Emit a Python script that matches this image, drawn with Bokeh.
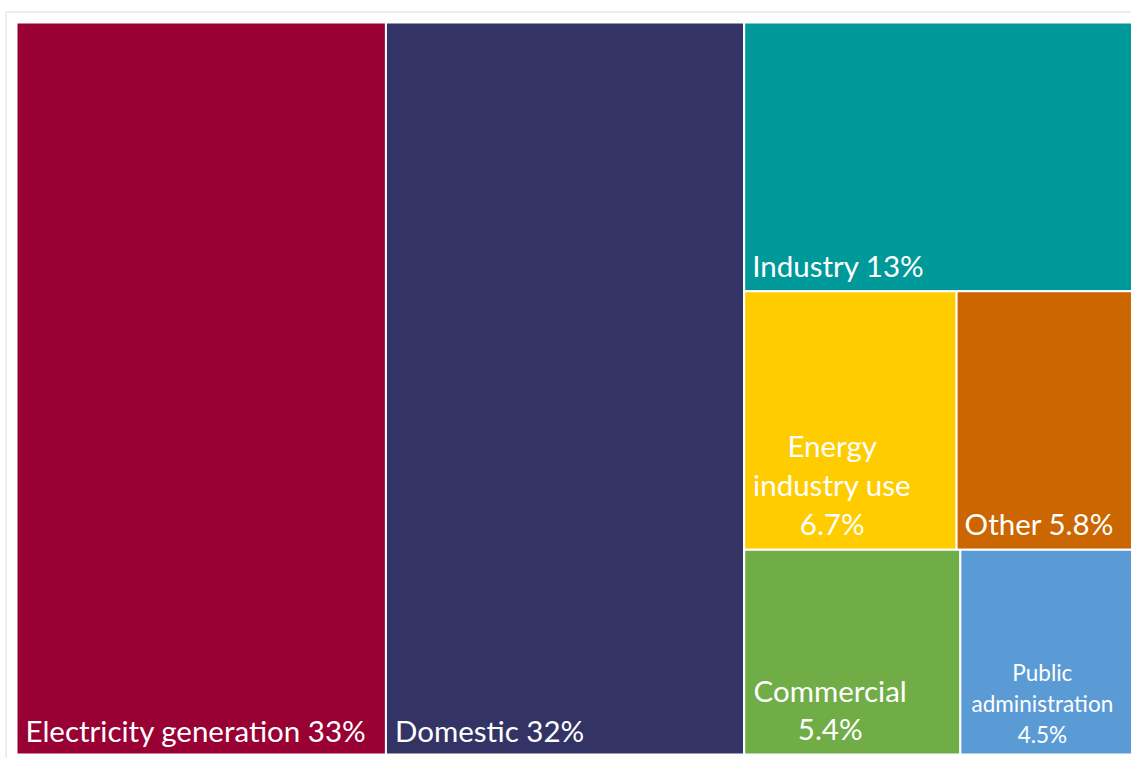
from bokeh.plotting import figure
from bokeh.models import Range1d, ColumnDataSource
from bokeh.core.properties import value
from bokeh.embed import file_html
from bokeh.resources import INLINE

# ---- data ----
names = ["Electricity generation", "Domestic", "Industry", "Energy industry use",
         "Other", "Commercial", "Public administration"]
shares = [33, 32, 13, 6.7, 5.8, 5.4, 4.5]
pct_labels = ["33%", "32%", "13%", "6.7%", "5.8%", "5.4%", "4.5%"]
label_lines = [
    ["Electricity generation 33%"],
    ["Domestic 32%"],
    ["Industry 13%"],
    ["Energy", "industry use", "6.7%"],
    ["Other 5.8%"],
    ["Commercial", "5.4%"],
    ["Public", "administration", "4.5%"],
]
colors = ["#990033", "#333366", "#009999", "#FFCC00", "#CC6600", "#70AD47", "#5B9BD5"]

# ---- layout (slice and dice) ----
W_FIG, H_FIG = 1131, 758
X0, Y0, TW, TH = 16, 22, 1124, 732
total = sum(shares)
rects = [None] * len(shares)
x = X0
for i in (0, 1):
    w = shares[i] / total * TW
    rects[i] = (x, x + w, Y0, Y0 + TH)
    x += w
right_total = sum(shares[2:])
rw = right_total / total * TW
y = Y0
for grp in ([2], [3, 4], [5, 6]):
    gsum = sum(shares[j] for j in grp)
    h = gsum / right_total * TH
    xx = x
    for j in grp:
        w = shares[j] / gsum * rw
        rects[j] = (xx, xx + w, y, y + h)
        xx += w
    y += h

p = figure(width=W_FIG, height=H_FIG, output_backend="svg", toolbar_location=None,
           x_range=Range1d(0, W_FIG), y_range=Range1d(H_FIG, 0),
           min_border=0)
p.axis.visible = False
p.grid.visible = False
p.outline_line_color = None
p.background_fill_color = "white"

# outer light frame
p.quad(left=[5.5], right=[W_FIG + 50], top=[11.5], bottom=[H_FIG + 50],
       fill_color=None, line_color="#dcdcdc", line_width=1)

src = ColumnDataSource(dict(
    left=[r[0] for r in rects], right=[r[1] for r in rects],
    top=[r[2] for r in rects], bottom=[r[3] for r in rects], color=colors))
p.quad(left="left", right="right", top="top", bottom="bottom", source=src,
       fill_color="color", line_color="white", line_width=2)

# label styles: (align, dx from left, baseline offset from bottom, font px, line height)
styles = [
    ("left", 9, 14, 29.5, 38),
    ("left", 9, 14, 29.5, 38),
    ("left", 8, 15, 29.5, 38),
    ("center", 88, 16, 29.5, 39),
    ("left", 8, 16, 29.5, 38),
    ("center", 86, 16, 29.5, 38),
    ("center", 82, 12, 22.5, 31),
]
tx, ty, tt, ta, tsz = [], [], [], [], []
for i, lines in enumerate(label_lines):
    align, dx, dy, fs, lh = styles[i]
    l, r, t, b = rects[i]
    n = len(lines)
    for k, line in enumerate(lines):
        tx.append(l + dx)
        # renderer places alphabetic baseline ~0.35em lower; compensate
        ty.append(b - dy - (n - 1 - k) * lh - 0.35 * fs)
        tt.append(line)
        ta.append(align)
        tsz.append(f"{fs}px")
tsrc = ColumnDataSource(dict(x=tx, y=ty, text=tt, align=ta, size=tsz))
p.text(x="x", y="y", text="text", source=tsrc, text_align="align",
       text_baseline="alphabetic", text_font_size="size",
       text_font=value("Lato"), text_color="white")

open("out.html", "w").write(file_html(p, INLINE))
